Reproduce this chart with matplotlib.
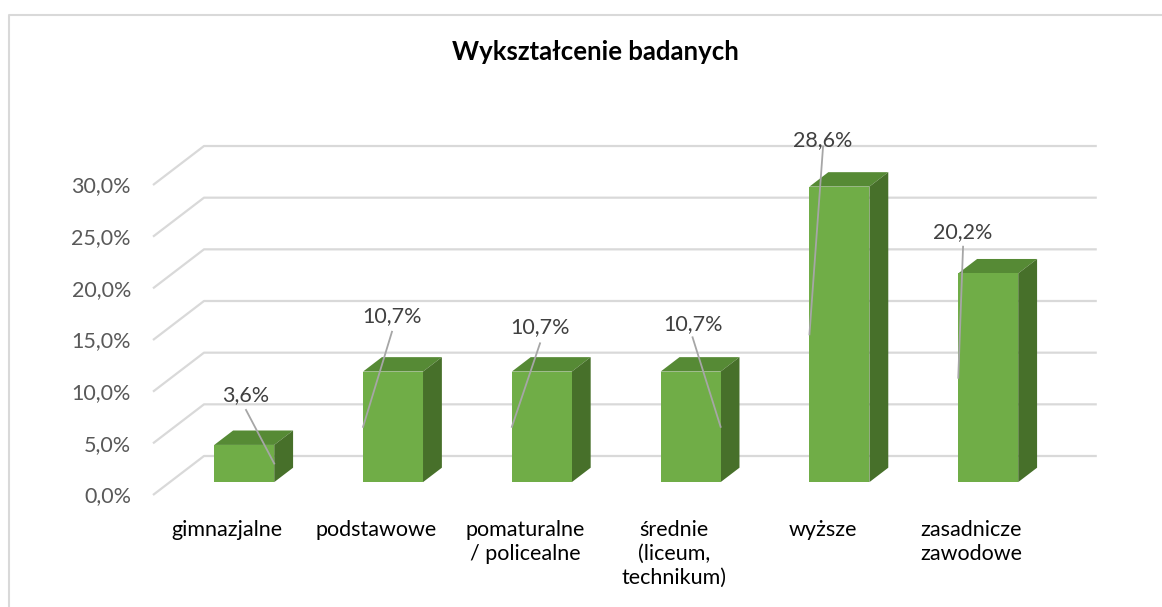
import matplotlib
matplotlib.use("Agg")
import matplotlib.pyplot as plt
from matplotlib.patches import Polygon
from matplotlib.lines import Line2D

# ---------------- data ----------------
title = "Wykształcenie badanych"
categories = ["gimnazjalne", "podstawowe", "pomaturalne\n/ policealne",
              "średnie\n(liceum,\ntechnikum)", "wyższe", "zasadnicze\nzawodowe"]
values = [3.6, 10.7, 10.7, 10.7, 28.6, 20.2]          # percent
value_labels = ["3,6%", "10,7%", "10,7%", "10,7%", "28,6%", "20,2%"]
yticks = [0, 5, 10, 15, 20, 25, 30]
ytick_labels = ["0,0%", "5,0%", "10,0%", "15,0%", "20,0%", "25,0%", "30,0%"]

# ---------------- layout (pixel model of the pseudo-3D chart) ----------------
W, H = 1162, 607
X0, SX = 153.0, 148.8     # front-floor left edge, pixels per category
Y0, SZ = 495.0, 10.333    # front-floor y, pixels per percent
DX, DY = 51.0, 39.0       # full depth vector in pixels
bar_w = 0.403             # in category units
d_front, d_back = 0.33, 0.70

# data-label anchors: (u position, height above bar value), leader side
lab_u = [0.625, 1.606, 2.601, 3.626, 4.503, 5.444]
lab_dz = [6.27, 6.82, 5.75, 6.04, 5.95, 5.45]
lead_gap = [1.64, 1.72, 1.77, 1.48, 0.84, 1.62]
lead_side = [1, -1, -1, 1, -1, -1]

du = DX / SX
dz = DY / SZ

fig = plt.figure(figsize=(W / 100, H / 100), dpi=100)
ax = fig.add_axes([0, 0, 1, 1])
ax.set_xlim((0 - X0) / SX, (W - X0) / SX)
ax.set_ylim((Y0 - H) / SZ, Y0 / SZ)
ax.axis("off")

FONT = "Lato"
FS = 15.5
grid_c = "#D9D9D9"

def P(u, z, d):
    return (u + du * d, z + dz * d)

# gridlines
n = len(categories)
for t in yticks:
    xs = [P(0, t, 0)[0], P(0, t, 1)[0], P(n, t, 1)[0]]
    ys = [P(0, t, 0)[1], P(0, t, 1)[1], P(n, t, 1)[1]]
    ax.plot(xs, ys, color=grid_c, lw=1.6, solid_capstyle="butt", zorder=1)

# y tick labels
for t, lab in zip(yticks, ytick_labels):
    ax.text(-0.148, t - 0.73, lab, ha="right", va="baseline", fontsize=FS,
            color="#595959", family=FONT)

front_c = "#70AD47"
top_c = "#568A35"
side_c = "#47702A"

for i, v in enumerate(values):
    c = i + 0.5
    l, r = c - bar_w / 2, c + bar_w / 2
    # top face
    ax.add_patch(Polygon([P(l, v, d_front), P(r, v, d_front), P(r, v, d_back), P(l, v, d_back)],
                         closed=True, facecolor=top_c, edgecolor="none", zorder=3))
    # side face
    ax.add_patch(Polygon([P(r, 0, d_front), P(r, 0, d_back), P(r, v, d_back), P(r, v, d_front)],
                         closed=True, facecolor=side_c, edgecolor="none", zorder=3))
    # front face
    ax.add_patch(Polygon([P(l, 0, d_front), P(r, 0, d_front), P(r, v, d_front), P(l, v, d_front)],
                         closed=True, facecolor=front_c, edgecolor="none", zorder=4))
    # data label
    lz = v + lab_dz[i]
    ax.text(lab_u[i], lz - 0.76, value_labels[i], ha="center", va="baseline", fontsize=FS,
            color="#404040", family=FONT, zorder=6)
    # leader line
    ex = (r if lead_side[i] > 0 else l)
    end = P(ex, v / 2, d_front)
    ax.plot([lab_u[i], end[0]], [lz - lead_gap[i], end[1]], color="#A6A6A6", lw=1.3, zorder=5)

# category labels
for i, cat in enumerate(categories):
    ax.text(i + 0.5, -2.42, cat, ha="center", va="top", fontsize=FS,
            color="#000000", family=FONT, linespacing=1.25)

# title
fig.text(595 / W, 1 - 60 / H, title, ha="center", va="baseline", fontsize=18.5,
         fontweight="bold", color="#000000", family=FONT)

# chart border (extends past right / bottom edge)
bx, by = 8.5 / W, 1 - 14.5 / H
fig.add_artist(Line2D([bx, bx, 1.01], [-0.01, by, by], transform=fig.transFigure,
                      color="#D9D9D9", lw=1.5))

fig.savefig("out.png", dpi=100, facecolor="white")
